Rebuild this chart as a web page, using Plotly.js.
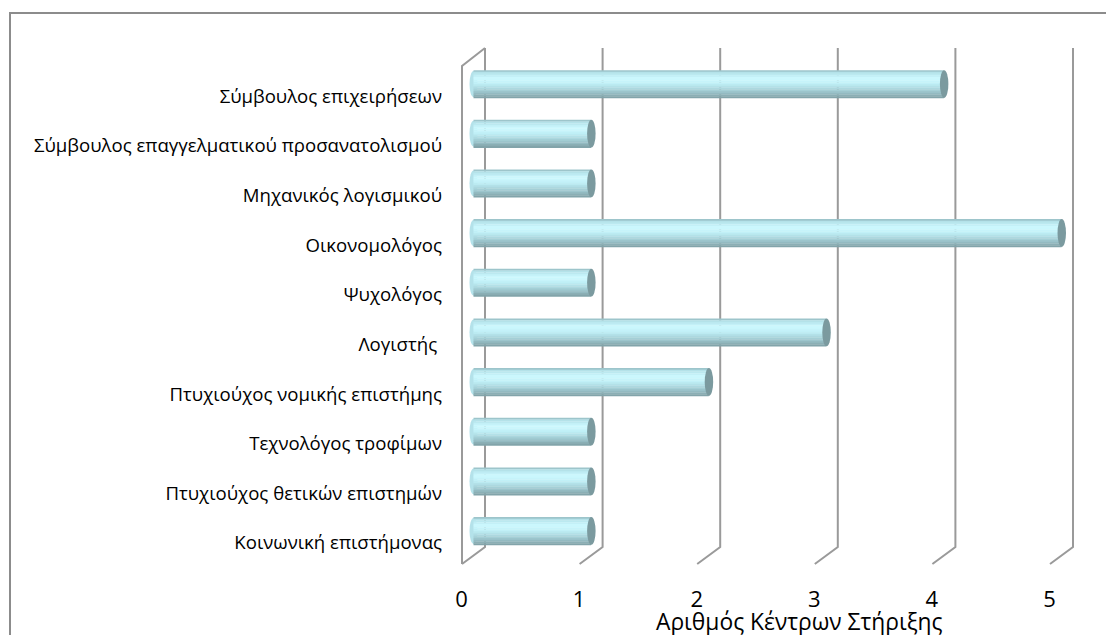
<!DOCTYPE html>
<html>
<head>
<meta charset="utf-8">
<script src="https://cdn.plot.ly/plotly-3.0.1.min.js"></script>
<style>html,body{margin:0;padding:0;background:#fff;}#chart{width:1106px;height:635px;}</style>
</head>
<body>
<div id="chart"></div>
<script>
// ---- data ----
const categories = [
  "Σύμβουλος επιχειρήσεων",
  "Σύμβουλος επαγγελματικού προσανατολισμού",
  "Μηχανικός λογισμικού",
  "Οικονομολόγος",
  "Ψυχολόγος",
  "Λογιστής\u00a0",
  "Πτυχιούχος νομικής επιστήμης",
  "Τεχνολόγος τροφίμων",
  "Πτυχιούχος θετικών επιστημών",
  "Κοινωνική επιστήμονας"
];
const values = [4, 1, 1, 5, 1, 3, 2, 1, 1, 1];
const xTickVals = [0, 1, 2, 3, 4, 5];
const xTickText = ["0", "1", "2", "3", "4", "5"];
const axisTitle = "Αριθμός Κέντρων Στήριξης";

// ---- geometry helpers (figure is 1106x635 with zero margins) ----
const W = 1106, H = 635;
const px = v => v / W;
const py = v => 1 - v / H;
const FONT = "Open Sans, Noto Sans, sans-serif";

// ---- cylinder shading: thin horizontal slices with a vertical gradient ----
const gradStops = [
  [0.00, [0x8f, 0xb3, 0xb9]],
  [0.08, [0xb2, 0xe0, 0xe8]],
  [0.30, [0xcd, 0xf9, 0xff]],
  [0.50, [0xbf, 0xee, 0xf5]],
  [0.75, [0xa0, 0xcb, 0xd2]],
  [1.00, [0x7e, 0x9e, 0xa4]]
];
function gradColor(t) {
  for (let k = 1; k < gradStops.length; k++) {
    if (t <= gradStops[k][0]) {
      const [t0, c0] = gradStops[k - 1], [t1, c1] = gradStops[k];
      const f = (t - t0) / (t1 - t0);
      const c = c0.map((a, j) => Math.round(a + (c1[j] - a) * f));
      return `rgb(${c[0]},${c[1]},${c[2]})`;
    }
  }
  const c = gradStops[gradStops.length - 1][1];
  return `rgb(${c[0]},${c[1]},${c[2]})`;
}
const BAR_HALF = 0.28, N_SLICES = 16;
const sliceW = 2 * BAR_HALF / N_SLICES;
const traces = [];
for (let s = 0; s < N_SLICES; s++) {
  traces.push({
    type: "bar",
    orientation: "h",
    y: categories,
    x: values,
    offset: -BAR_HALF + s * sliceW,
    width: sliceW + 0.006,
    marker: {color: gradColor((s + 0.5) / N_SLICES), line: {width: 0}},
    hoverinfo: "x+y",
    showlegend: false
  });
}

const GRID = {color: "#9a9a9a", width: 2};
const shapes = [];
// gridlines: back vertical + floor diagonal
xTickVals.forEach(v => {
  shapes.push({
    type: "path", xref: "x", yref: "paper", xsizemode: "pixel", xanchor: v,
    path: `M 11.5,${py(48)} L 11.5,${py(547)} L -11.5,${py(564)}`,
    line: GRID, layer: "below"
  });
});
// left wall front edge and top edge
shapes.push({
  type: "path", xref: "x", yref: "paper", xsizemode: "pixel", xanchor: 0,
  path: `M -11.5,${py(564)} L -11.5,${py(66)} L 11.5,${py(48)}`,
  line: GRID, layer: "below"
});
// bar end caps (ellipses)
categories.forEach((c, i) => {
  shapes.push({
    type: "circle", xref: "x", yref: "y", xsizemode: "pixel", xanchor: 0,
    x0: -4, x1: 4, y0: i - 0.26, y1: i + 0.26,
    fillcolor: "#b4e2ea", line: {width: 0}, layer: "below"
  });
  shapes.push({
    type: "circle", xref: "x", yref: "y", xsizemode: "pixel", xanchor: values[i],
    x0: -4, x1: 4.5, y0: i - 0.28, y1: i + 0.28,
    fillcolor: "#7b9a9f", line: {width: 0}, layer: "above"
  });
});
// outer border (partially visible, as in the reference)
shapes.push({
  type: "path", xref: "paper", yref: "paper",
  path: `M ${px(10)},-0.05 L ${px(10)},${py(13)} L 1.05,${py(13)}`,
  line: {color: "#8c8c8c", width: 2}
});

// x axis: 0 -> 473.5px, 5 -> 1061.5px, domain widened so shapes are not clipped
const X0PX = 473.5, X5PX = 1061.5, DOM_L = 450, DOM_R = 1085;
const unitsPerPx = 5 / (X5PX - X0PX);
const xRange = [-(X0PX - DOM_L) * unitsPerPx, 5 + (DOM_R - X5PX) * unitsPerPx];

const layout = {
  width: W, height: H,
  margin: {l: 0, r: 0, t: 0, b: 0, pad: 0},
  paper_bgcolor: "#ffffff",
  plot_bgcolor: "rgba(0,0,0,0)",
  barmode: "overlay",
  showlegend: false,
  font: {family: FONT, color: "#000000"},
  xaxis: {
    domain: [px(DOM_L), px(DOM_R)],
    range: xRange,
    tickvals: xTickVals,
    ticktext: xTickText,
    ticks: "",
    showgrid: false, zeroline: false, showline: false,
    tickfont: {family: FONT, size: 22, color: "#000"},
    ticklabelshift: -12,
    ticklabelstandoff: 28,
    automargin: false,
    fixedrange: true
  },
  yaxis: {
    type: "category",
    categoryorder: "array",
    categoryarray: categories,
    autorange: "reversed",
    domain: [1 - 555.8 / H, 1 - 59.2 / H],
    ticks: "",
    showgrid: false, zeroline: false, showline: false,
    tickfont: {family: FONT, size: 18.6, color: "#000"},
    ticklabelstandoff: 7,
    ticklabelshift: -12,
    automargin: false,
    fixedrange: true
  },
  shapes: shapes,
  annotations: [{
    text: axisTitle,
    xref: "paper", yref: "paper",
    x: px(799), y: py(621),
    xanchor: "center", yanchor: "middle",
    showarrow: false,
    font: {family: FONT, size: 22.8, color: "#000"}
  }]
};

Plotly.newPlot("chart", traces, layout, {displayModeBar: false, staticPlot: true});
</script>
</body>
</html>
